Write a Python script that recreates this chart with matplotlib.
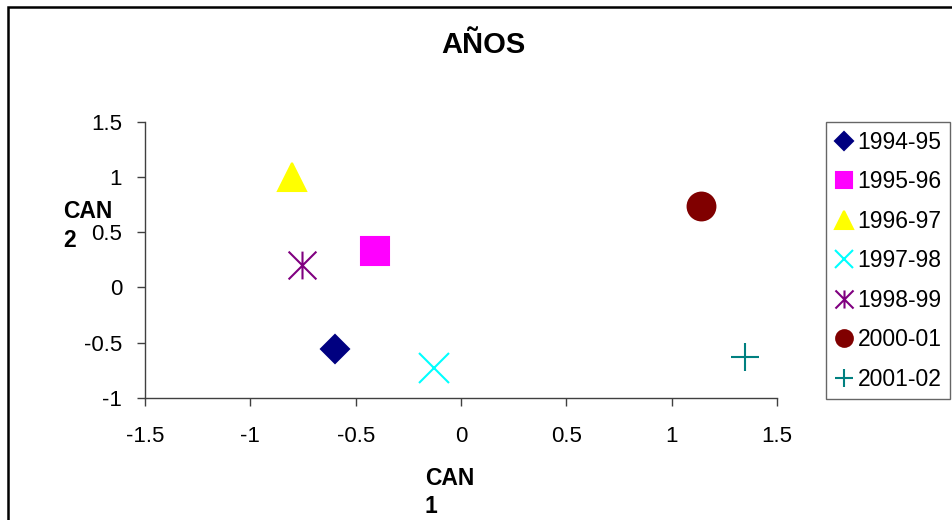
import matplotlib
matplotlib.use('Agg')
import matplotlib.pyplot as plt
import matplotlib.patches as mpatches
from matplotlib.path import Path
import numpy as np

plt.rcParams['font.family'] = ['Liberation Sans', 'DejaVu Sans']

# data
labels = ['1994-95', '1995-96', '1996-97', '1997-98', '1998-99', '2000-01', '2001-02']
can1 = [-0.60, -0.41, -0.80, -0.13, -0.755, 1.14, 1.35]
can2 = [-0.56, 0.33, 1.00, -0.73, 0.20, 0.74, -0.63]
colors = ['#000080', '#FF00FF', '#FFFF00', '#00FFFF', '#800080', '#800000', '#008080']

# excel style star: an x with a vertical bar
star = Path([(-1, -1), (1, 1), (-1, 1), (1, -1), (0, -1), (0, 1)],
            [Path.MOVETO, Path.LINETO, Path.MOVETO, Path.LINETO, Path.MOVETO, Path.LINETO])
markers = ['D', 's', '^', 'x', star, 'o', '+']
sizes = [14, 20, 20, 22, 20, 20, 20]
leg_sizes = [9, 12, 13, 13, 13, 12, 13]

fig = plt.figure(figsize=(9.52, 5.20), dpi=100)
ax = fig.add_axes([145/952, 1 - 398/520, 632/952, (398 - 121.7)/520])

handles = []
for i in range(len(labels)):
    ax.plot(can1[i], can2[i], linestyle='none', marker=markers[i], ms=sizes[i],
            color=colors[i], mec=colors[i], mew=1.5, clip_on=False)
    h, = plt.plot([], [], linestyle='none', marker=markers[i], ms=leg_sizes[i],
                  color=colors[i], mec=colors[i], mew=1.5)
    handles.append(h)

ax.set_xlim(-1.5, 1.5)
ax.set_ylim(-1, 1.5)
ax.set_xticks(np.arange(-1.5, 1.51, 0.5))
ax.set_yticks(np.arange(-1, 1.51, 0.5))
ax.set_xticklabels(['-1.5', '-1', '-0.5', '0', '0.5', '1', '1.5'])
ax.set_yticklabels(['-1', '-0.5', '0', '0.5', '1', '1.5'])
ax.spines['top'].set_visible(False)
ax.spines['right'].set_visible(False)
for s in ['left', 'bottom']:
    ax.spines[s].set_color('#404040')
    ax.spines[s].set_linewidth(1)
ax.tick_params(axis='x', direction='out', length=5.5, width=1, color='#404040', pad=15, labelsize=16)
ax.tick_params(axis='y', direction='out', length=5.5, width=1, color='#404040', pad=11, labelsize=16)

leg = fig.legend(handles, labels, loc='upper left', bbox_to_anchor=(826/952, 1 - 122/520),
                 frameon=True, fancybox=False, fontsize=16.5, handlelength=0.8,
                 handletextpad=0.2, labelspacing=0.72, borderpad=0.38, borderaxespad=0)
leg.get_frame().set_edgecolor('#404040')
leg.get_frame().set_linewidth(1)

fig.text(483/952, 1 - 45/520, 'AÑOS', ha='center', va='center', fontsize=21, fontweight='bold')

fig.text(63/952, 1 - 218/520, 'CAN', ha='left', va='baseline', fontsize=16.5, fontweight='bold')
fig.text(63/952, 1 - 247/520, '2', ha='left', va='baseline', fontsize=16.5, fontweight='bold')
fig.text(425/952, 1 - 485/520, 'CAN', ha='left', va='baseline', fontsize=16.5, fontweight='bold')
fig.text(425/952, 1 - 513/520, '1', ha='left', va='baseline', fontsize=16.5, fontweight='bold')

# outer chart frame, cut off at right and bottom
fig.patches.append(mpatches.Rectangle((8/952, -0.2), 1.5, 1.2 - 7/520, transform=fig.transFigure,
                                      fill=False, edgecolor='black', linewidth=1.8, figure=fig))

fig.savefig('out.png', dpi=100)
